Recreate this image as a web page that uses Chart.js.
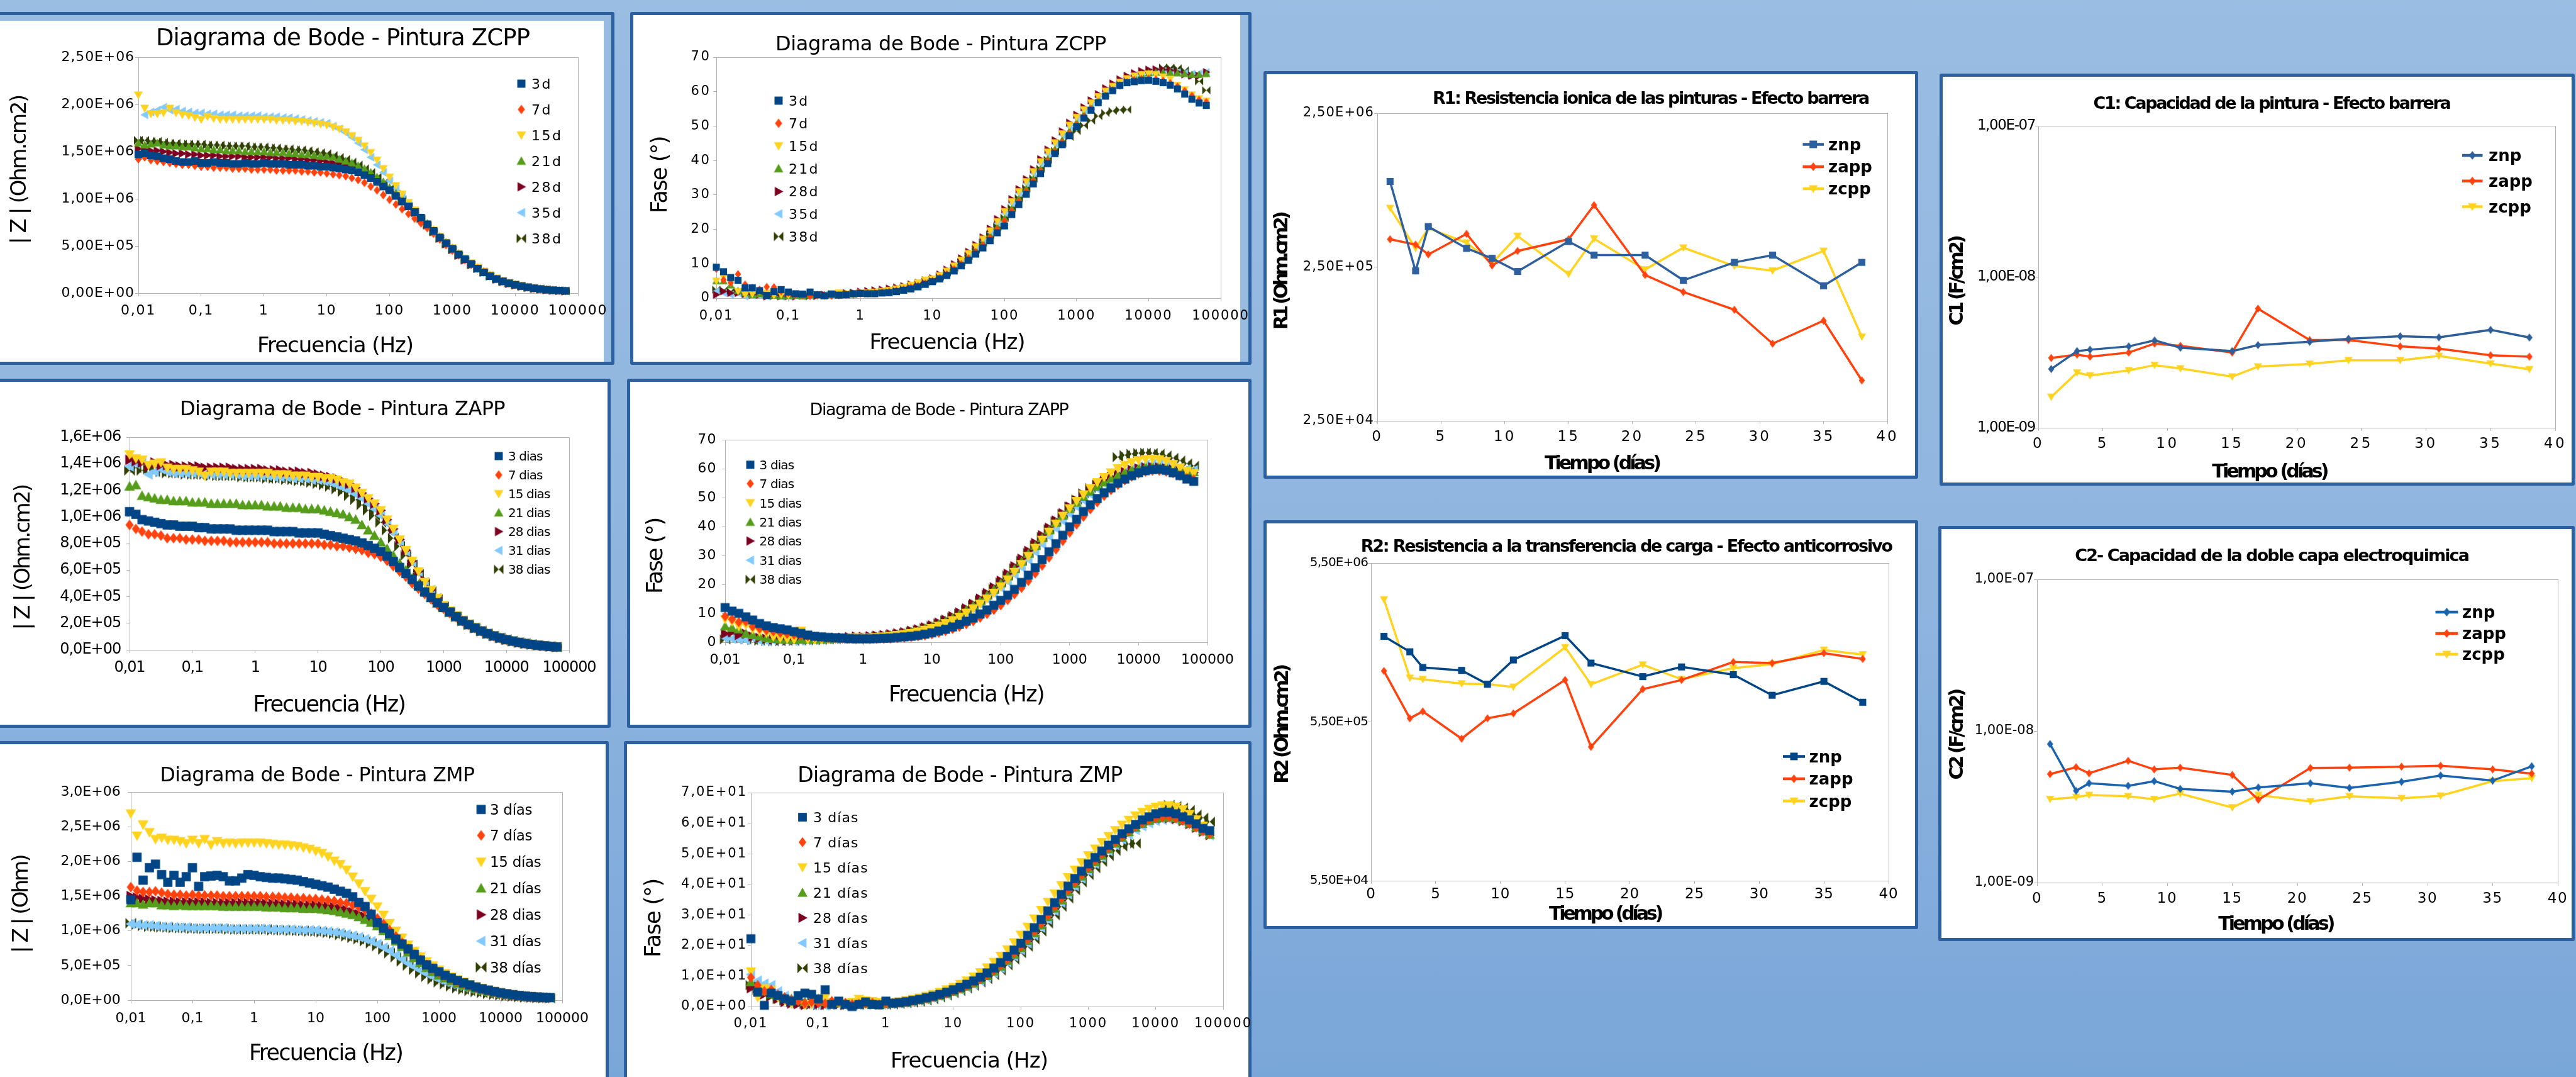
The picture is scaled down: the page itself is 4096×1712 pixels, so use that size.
<!DOCTYPE html>
<html lang="es">
<head>
<meta charset="utf-8">
<title>Diagramas de Bode y parámetros de impedancia</title>
<script src="https://cdn.jsdelivr.net/npm/chart.js@4.4.1/dist/chart.umd.min.js"></script>
<style>
  html, body { margin: 0; padding: 0; }
  body {
    position: relative; width: 4096px; height: 1712px; overflow: hidden;
    background: linear-gradient(180deg, #9abde2 0%, #8fb5df 55%, #79a6d8 100%);
  }
  .panel { position: absolute; box-sizing: border-box; background: #fff; border: 5px solid #2c60a0; border-radius: 3px; }
  canvas { position: absolute; }
</style>
</head>
<body>
<script>
/* ---------- datos: frecuencias (Hz) y días ---------- */
const FREQ = [0.01,0.0126,0.0158,0.02,0.0251,0.0316,0.0398,0.0501,0.0631,0.0794,
  0.1,0.126,0.158,0.2,0.251,0.316,0.398,0.501,0.631,0.794,
  1,1.26,1.58,2,2.51,3.16,3.98,5.01,6.31,7.94,
  10,12.6,15.8,20,25.1,31.6,39.8,50.1,63.1,79.4,
  100,126,158,200,251,316,398,501,631,794,
  1000,1259,1585,1995,2512,3162,3981,5012,6310,7943,
  10000,12589,15849,19953,25119,31623,39811,50119,63096];
const FREQ_TICKS = [0.01, 0.1, 1, 10, 100, 1000, 10000, 100000];
const DAYS = [1, 3, 4, 7, 9, 11, 15, 17, 21, 24, 28, 31, 35, 38];
const DAY_TICKS = [0, 5, 10, 15, 20, 25, 30, 35, 40];

const LAB_D = ['3d', '7d', '15d', '21d', '28d', '35d', '38d'];
const LAB_DIAS = ['3 dias', '7 dias', '15 dias', '21 dias', '28 dias', '31 dias', '38 dias'];
const LAB_DIAS5 = ['3 días', '7 días', '15 días', '21 días', '28 dias', '31 días', '38 días'];
const LAB_DIAS6 = ['3 días', '7 días', '15 días', '21 días', '28 días', '31 días', '38 días'];

/* |Z| pintura ZCPP (x 1e5 Ohm.cm2) */
const zcppZ_3d = [14.7,14.8,14.6,14.5,14.3,14.2,14.0,13.9,13.9,14.0, 13.8,13.8,13.9,13.8,13.8,13.7,13.7,13.8,13.7,13.7, 13.8,13.7,13.7,13.7,13.6,13.6,13.6,13.5,13.5,13.4, 13.4,13.3,13.2,13.1,13.0,12.8,12.5,12.2,11.8,11.3, 10.9,10.3,9.7,9.2,8.6,8.0,7.3,6.6,5.9,5.3, 4.7,4.1,3.6,3.1,2.6,2.2,1.8,1.5,1.25,1.05, 0.89,0.75,0.63,0.52,0.44,0.37,0.31,0.27,0.24];
const zcppZ_7d = [14.2,14.4,14.1,14.0,13.9,13.8,13.7,13.6,13.6,13.5, 13.4,13.4,13.3,13.3,13.3,13.2,13.2,13.2,13.1,13.1, 13.1,13.1,13.0,13.0,13.0,13.0,12.9,12.9,12.8,12.8, 12.7,12.6,12.5,12.4,12.2,12.0,11.7,11.3,10.9,10.4, 9.9,9.4,8.9,8.4,7.9,7.4,6.9,6.3,5.7,5.1, 4.5,4.0,3.5,3.0,2.6,2.2,1.8,1.5,1.25,1.05, 0.88,0.74,0.62,0.51,0.43,0.36,0.30,0.26,0.23];
const zcppZ_15d = [21.0,19.6,19.0,19.0,19.1,19.6,19.1,18.9,18.8,18.6, 18.4,18.7,18.5,18.4,18.4,18.4,18.4,18.4,18.4,18.4, 18.4,18.4,18.3,18.3,18.3,18.2,18.2,18.1,18.0,17.9, 17.8,17.6,17.4,17.1,16.7,16.2,15.6,14.9,14.1,13.2, 12.3,11.4,10.5,9.6,8.8,8.0,7.3,6.7,6.0,5.4, 4.8,4.2,3.7,3.2,2.75,2.3,1.9,1.6,1.3,1.1, 0.92,0.78,0.65,0.54,0.45,0.38,0.32,0.28,0.25];
const zcppZ_21d = [15.9,15.7,15.8,15.9,15.7,15.6,15.6,15.5,15.5,15.4, 15.3,15.3,15.2,15.2,15.1,15.1,15.1,15.0,15.0,15.0, 15.0,14.9,14.9,14.9,14.8,14.8,14.7,14.7,14.6,14.5, 14.5,14.4,14.2,14.0,13.8,13.5,13.2,12.8,12.3,11.8, 11.2,10.6,10.0,9.3,8.7,8.0,7.4,6.7,6.0,5.4, 4.8,4.2,3.6,3.1,2.7,2.3,1.9,1.5,1.25,1.05, 0.88,0.74,0.62,0.52,0.44,0.37,0.31,0.27,0.24];
const zcppZ_28d = [15.3,15.2,15.1,15.1,15.0,14.9,14.8,14.8,14.7,14.7, 14.6,14.6,14.6,14.5,14.5,14.5,14.5,14.4,14.4,14.4, 14.4,14.4,14.3,14.3,14.3,14.2,14.2,14.1,14.1,14.0, 13.9,13.8,13.7,13.5,13.3,13.1,12.8,12.4,12.0,11.5, 11.0,10.4,9.8,9.2,8.5,7.9,7.2,6.5,5.8,5.2, 4.6,4.0,3.5,3.0,2.6,2.2,1.8,1.45,1.2,1.0, 0.84,0.70,0.58,0.48,0.40,0.34,0.29,0.25,0.22];
const zcppZ_35d = [14.6,18.9,19.2,19.4,19.7,19.4,19.5,19.3,19.2,19.1, 19.1,19.0,19.0,18.9,18.9,18.9,18.8,18.8,18.8,18.8, 18.7,18.7,18.7,18.6,18.6,18.5,18.4,18.3,18.2,18.1, 18.0,17.7,17.4,17.0,16.5,15.9,15.2,14.4,13.6,12.8, 11.9,11.1,10.3,9.5,8.7,7.9,7.2,6.5,5.8,5.2, 4.7,4.1,3.6,3.1,2.7,2.3,1.9,1.55,1.3,1.1, 0.90,0.76,0.64,0.53,0.45,0.38,0.32,0.28,0.25];
const zcppZ_38d = [16.2,16.2,16.1,16.1,16.0,15.9,15.9,15.8,15.8,15.8, 15.8,15.7,15.7,15.7,15.6,15.6,15.6,15.6,15.5,15.5, 15.5,15.4,15.4,15.3,15.3,15.2,15.2,15.1,15.0,14.9, 14.8,14.6,14.4,14.2,13.9,13.6,13.2,12.8,12.3,11.7, 11.1,10.5,9.9,9.2,8.6,7.9,7.2,6.5,5.8,5.2, 4.6,4.0,3.5,3.0,2.6,2.2,1.8,1.5,1.25,1.05, 0.88,0.74,0.62,0.52,0.44,0.37,0.31,0.27,0.24];
const ZCPP_Z_TICKS = [0, 5, 10, 15, 20, 25];

/* fase pintura ZCPP (grados) */
const zcppF_3d = [9.0,7.7,6.0,5.2,3.0,3.0,2.2,0.8,1.9,2.5, 1.8,1.3,1.2,1.8,1.0,0.7,1.2,0.9,1.0,1.3, 1.4,1.3,1.3,1.5,1.6,1.9,2.3,2.7,3.3,4.0, 4.8,5.6,6.6,7.9,9.4,11.0,12.8,14.6,16.7,19.0, 21.0,24.3,27.2,30.2,33.2,36.2,39.1,42.0,44.6,47.2, 49.8,52.3,54.6,56.8,58.7,60.3,61.8,62.6,62.9,63.2, 63.3,63.0,62.6,61.9,60.8,59.3,57.8,56.7,56.0];
const zcppF_7d = [8.5,5.3,4.5,7.0,4.0,3.0,2.5,3.3,3.2,2.0, 1.5,1.0,0.8,0.6,0.8,0.9,0.7,0.8,1.0,1.1, 1.3,1.4,1.5,1.7,1.9,2.2,2.6,3.1,3.6,4.3, 5.0,5.9,7.0,8.4,9.9,11.6,13.4,15.4,17.5,20.0, 22.4,25.3,28.1,31.0,34.0,36.9,39.8,42.6,45.3,47.9, 50.4,52.8,55.0,57.0,58.8,60.4,61.8,62.8,63.4,63.7, 63.8,63.6,63.2,62.5,61.5,60.2,58.8,57.6,57.0];
const zcppF_15d = [5.0,6.0,4.5,2.0,1.0,1.2,2.0,1.5,0.8,1.0, 0.8,1.0,1.0,0.9,0.7,0.6,1.4,1.6,1.2,1.2, 1.5,1.6,1.8,2.0,2.3,2.7,3.2,3.8,4.5,5.3, 5.6,6.6,7.9,9.4,11.1,13.0,15.0,17.2,19.6,22.3, 25.2,28.1,31.0,33.9,36.8,39.7,42.5,45.2,47.8,50.3, 52.6,54.8,56.8,58.6,60.2,61.6,62.8,63.8,64.6,65.0, 65.2,65.0,64.3,63.6,61.9,60.6,59.1,58.0,57.3];
const zcppF_21d = [5.0,5.0,3.8,2.2,1.5,1.0,1.2,1.6,0.8,0.6, 0.7,0.8,0.6,0.9,1.0,0.9,1.1,1.2,1.1,1.2, 1.4,1.5,1.6,1.8,2.0,2.4,2.8,3.3,3.9,4.6, 5.3,6.2,7.4,8.8,10.4,12.2,14.0,16.0,18.2,20.6, 23.2,26.0,28.9,31.8,34.7,37.6,40.5,43.3,46.0,48.6, 51.1,53.5,55.7,57.7,59.5,61.1,62.5,63.6,64.4,65.0, 65.4,65.6,65.6,65.5,65.4,65.2,65.0,65.0,65.2];
const zcppF_28d = [1.0,2.0,1.5,1.5,1.2,1.0,1.0,0.5,0.8,0.6, 0.6,0.5,0.8,0.9,0.7,1.0,1.2,1.2,1.5,1.6, 1.9,2.1,2.3,2.5,2.8,3.1,3.5,4.0,4.5,5.2, 5.8,6.9,8.3,9.9,11.6,13.5,15.5,17.7,20.2,23.0, 25.9,28.8,31.7,34.6,37.5,40.4,43.2,45.9,48.5,51.0, 53.3,55.5,57.5,59.3,61.0,62.4,63.6,64.6,65.4,66.0, 66.4,66.5,66.4,66.2,65.7,65.0,64.6,64.6,65.7];
const zcppF_35d = [2.0,1.5,1.0,1.5,0.5,0.8,1.0,0.5,0.8,0.5, 0.6,0.8,0.5,0.7,0.9,1.0,0.8,1.0,1.2,1.3, 1.5,1.6,1.8,2.0,2.3,2.7,3.1,3.7,4.4,5.1, 5.5,6.5,7.8,9.2,10.9,12.7,14.7,16.8,19.2,21.8, 24.7,27.6,30.5,33.4,36.3,39.2,42.0,44.8,47.4,49.9, 52.3,54.5,56.6,58.5,60.2,61.7,63.0,64.0,64.8,65.4, 65.8,66.0,66.0,65.8,65.6,65.4,65.2,65.3,65.7];
const zcppF_38d = [2.5,2.3,2.0,2.0,1.5,1.2,1.0,0.8,0.6,0.6, 0.7,0.8,0.7,0.6,0.8,0.9,1.0,1.0,1.1,1.3, 1.4,1.5,1.7,1.9,2.1,2.5,2.9,3.4,4.0,4.7, 5.4,6.3,7.5,8.9,10.5,12.3,14.2,16.2,18.5,20.9, 23.4,26.2,29.1,32.0,34.8,37.6,40.2,42.8,45.0,46.9, 48.6,50.2,51.6,52.9,53.8,54.4,54.7,54.8,null,null, null,null,67.0,67.0,66.8,66.2,64.8,63.0,60.4];
const PHASE_TICKS = [0, 10, 20, 30, 40, 50, 60, 70];

/* |Z| pintura ZAPP (x 1e5 Ohm.cm2) */
const zappZ_3d = [10.4,10.2,9.8,9.7,9.6,9.5,9.4,9.4,9.3,9.3, 9.3,9.2,9.2,9.1,9.1,9.1,9.1,9.0,9.0,9.0, 9.0,9.0,9.0,8.9,8.9,8.9,8.9,8.8,8.8,8.8, 8.8,8.7,8.6,8.5,8.4,8.3,8.2,8.05,7.85,7.65, 7.4,7.05,6.65,6.2,5.75,5.3,4.8,4.35,3.95,3.55, 3.2,2.85,2.5,2.18,1.9,1.65,1.42,1.22,1.05,0.9, 0.77,0.66,0.56,0.48,0.41,0.35,0.3,0.26,0.22];
const zappZ_7d = [9.4,9.1,8.9,8.7,8.7,8.6,8.4,8.4,8.4,8.3, 8.3,8.3,8.2,8.2,8.2,8.2,8.1,8.1,8.1,8.1, 8.1,8.1,8.1,8.0,8.0,8.0,8.0,8.0,8.0,8.0, 8.0,7.9,7.9,7.8,7.8,7.7,7.6,7.5,7.3,7.2, 7.0,6.7,6.3,5.9,5.5,5.0,4.6,4.2,3.8,3.4, 3.1,2.75,2.45,2.15,1.88,1.63,1.4,1.2,1.03,0.88, 0.75,0.64,0.55,0.47,0.4,0.34,0.29,0.25,0.21];
const zappZ_15d = [14.7,14.4,14.3,13.9,14.0,14.1,13.7,13.6,13.6,13.6, 13.5,13.4,13.1,13.4,13.4,13.4,13.3,13.3,13.3,13.3, 13.3,13.3,13.3,13.2,13.2,13.2,13.1,13.1,13.1,13.0, 13.0,12.9,12.9,12.8,12.6,12.5,12.2,11.8,11.4,11.0, 10.5,9.8,9.1,8.3,7.5,6.7,5.9,5.1,4.5,3.9, 3.35,2.95,2.6,2.25,1.95,1.7,1.46,1.25,1.07,0.92, 0.79,0.67,0.57,0.49,0.42,0.36,0.31,0.27,0.23];
const zappZ_21d = [12.3,12.4,11.6,11.5,11.4,11.3,11.3,11.2,11.2,11.2, 11.1,11.1,11.1,11.0,11.0,11.0,11.0,11.0,10.9,10.9, 10.9,10.9,10.8,10.8,10.8,10.7,10.7,10.7,10.6,10.6, 10.6,10.5,10.4,10.3,10.2,10.0,9.8,9.4,9.0,8.6, 8.1,7.6,7.1,6.5,6.0,5.4,4.9,4.4,3.9,3.5, 3.15,2.8,2.48,2.17,1.9,1.65,1.42,1.22,1.05,0.9, 0.77,0.66,0.56,0.48,0.41,0.35,0.3,0.26,0.22];
const zappZ_28d = [14.3,14.2,14.1,13.8,14.1,13.9,13.9,13.9,13.8,13.8, 13.8,13.8,13.7,13.7,13.7,13.7,13.7,13.6,13.6,13.6, 13.6,13.6,13.5,13.5,13.5,13.4,13.4,13.4,13.3,13.3, 13.2,13.1,13.0,12.9,12.7,12.5,12.2,11.8,11.4,11.0, 10.5,9.8,9.1,8.3,7.5,6.7,5.9,5.2,4.5,3.9, 3.3,2.9,2.55,2.2,1.92,1.66,1.43,1.23,1.05,0.9, 0.77,0.66,0.56,0.48,0.41,0.35,0.3,0.26,0.22];
const zappZ_31d = [13.8,14.0,14.2,13.2,13.4,13.6,13.4,13.3,13.3,13.3, 13.3,13.3,13.2,13.2,13.2,13.2,13.2,13.2,13.1,13.1, 13.1,13.1,13.1,13.0,13.0,13.0,12.9,12.9,12.9,12.8, 12.8,12.7,12.6,12.4,12.2,12.0,11.7,11.4,11.0,10.6, 10.1,9.5,8.8,8.1,7.4,6.6,5.8,5.1,4.5,3.9, 3.3,2.9,2.55,2.2,1.92,1.66,1.43,1.23,1.05,0.9, 0.77,0.66,0.56,0.48,0.41,0.35,0.3,0.26,0.22];
const zappZ_38d = [13.5,13.7,13.5,13.6,13.4,13.4,13.3,13.3,13.3,13.2, 13.2,13.2,13.2,13.1,13.1,13.1,13.1,13.1,13.0,13.0, 13.0,13.0,12.9,12.9,12.9,12.8,12.8,12.7,12.7,12.6, 12.5,12.4,12.3,12.1,11.9,11.6,11.3,10.9,10.5,10.1, 9.6,9.0,8.4,7.8,7.1,6.4,5.7,5.0,4.4,3.8, 3.25,2.85,2.5,2.18,1.9,1.65,1.42,1.22,1.05,0.9, 0.77,0.66,0.56,0.48,0.41,0.35,0.3,0.26,0.22];
const ZAPP_Z_TICKS = [0, 2, 4, 6, 8, 10, 12, 14, 16];

/* fase pintura ZAPP (grados) */
const zappF_3d = [12.0,10.8,10.0,8.8,7.7,6.5,5.7,5.1,4.7,4.3, 3.7,3.1,2.5,2.1,1.9,1.7,1.6,1.5,1.3,1.2, 1.2,1.2,1.3,1.4,1.5,1.7,1.9,2.1,2.4,2.8, 3.3,3.9,4.5,5.3,6.2,7.3,8.4,9.8,11.2,12.8, 14.5,16.3,18.3,20.7,23.2,25.8,28.6,31.3,34.1,37.0, 39.9,42.5,45.2,47.5,49.7,51.7,53.4,55.0,56.4,57.6, 58.6,59.3,59.7,59.8,59.4,58.6,57.6,56.4,55.6];
const zappF_7d = [9.0,8.0,7.0,7.2,5.5,4.8,4.2,3.8,3.3,3.0, 2.7,2.4,2.1,1.9,1.7,1.5,1.4,1.3,1.2,1.1, 1.1,1.1,1.2,1.2,1.3,1.5,1.6,1.8,2.1,2.4, 2.8,3.3,3.9,4.6,5.4,6.3,7.3,8.5,9.8,11.2, 12.8,14.6,16.6,18.8,21.2,23.8,26.5,29.3,32.1,35.0, 37.9,40.7,43.4,46.0,48.4,50.6,52.6,54.4,56.0,57.3, 58.3,59.0,59.3,59.3,59.0,58.4,57.6,56.8,56.3];
const zappF_15d = [8.0,7.2,5.5,6.0,4.5,3.8,3.2,2.0,1.5,1.2, 1.0,4.0,1.0,0.9,1.0,1.1,1.2,1.4,1.5,1.7, 1.5,1.6,1.8,2.0,2.2,2.5,2.8,3.2,3.7,4.3, 4.9,5.7,6.6,7.6,8.8,10.2,11.7,13.3,15.1,17.1, 19.3,21.7,24.3,27.0,29.8,32.6,35.4,38.2,41.0,43.7, 46.3,48.8,51.1,53.3,55.3,57.1,58.7,60.1,61.3,62.2, 62.9,63.3,63.4,63.2,62.6,61.6,60.4,59.2,58.5];
const zappF_21d = [5.5,5.0,4.5,3.0,2.5,2.0,1.5,1.2,1.0,0.9, 0.8,0.9,0.9,1.0,1.0,1.1,1.2,1.3,1.4,1.5, 1.6,1.7,1.9,2.1,2.4,2.7,3.1,3.6,4.1,4.8, 5.5,6.3,7.3,8.4,9.7,11.1,12.6,14.3,16.2,18.2, 20.4,22.8,25.3,27.9,30.6,33.3,36.0,38.7,41.3,43.8, 46.1,48.3,50.3,52.1,53.8,55.3,56.6,57.8,58.8,59.6, 60.2,60.6,60.8,60.8,60.6,60.2,59.7,59.2,58.8];
const zappF_28d = [3.0,3.5,2.5,3.0,2.0,1.5,1.2,1.0,0.8,0.8, 0.9,1.0,1.1,1.2,1.3,1.4,1.5,1.6,1.8,2.0, 1.9,2.1,2.3,2.5,2.8,3.1,3.5,4.0,4.5,5.2, 5.9,6.8,7.8,9.0,10.3,11.7,13.3,15.1,17.0,19.0, 21.3,23.7,26.3,28.9,31.6,34.3,37.0,39.6,42.1,44.6, 46.9,49.1,51.1,52.9,54.5,55.9,57.1,58.1,58.9,59.6, 60.1,60.4,60.5,60.4,60.1,59.7,59.2,58.8,58.6];
const zappF_31d = [1.5,1.2,1.0,0.8,1.5,0.5,0.4,0.5,0.6,0.7, 0.5,0.6,0.7,0.8,0.9,1.0,1.1,1.2,1.3,1.4, 1.5,1.6,1.8,2.0,2.2,2.5,2.9,3.3,3.8,4.4, 5.0,5.8,6.7,7.7,8.9,10.2,11.6,13.2,14.9,16.8, 18.8,21.0,23.4,25.9,28.5,31.2,33.9,36.6,39.3,41.9, 44.4,46.8,49.0,51.1,53.0,54.8,56.4,57.8,59.0,60.0, 60.8,61.4,61.7,61.7,61.4,60.9,60.3,59.8,59.5];
const zappF_38d = [1.0,1.5,1.8,1.0,0.8,0.6,0.5,0.4,0.4,0.5, 0.5,0.6,0.7,0.8,0.9,1.0,1.1,1.2,1.3,1.4, 1.6,1.8,2.0,2.2,2.5,2.8,3.2,3.7,4.2,4.9, 5.6,6.5,7.5,8.6,9.9,11.3,12.9,14.6,16.5,18.5, 20.7,23.1,25.6,28.2,30.9,33.6,36.4,39.1,41.8,44.4, 46.9,49.3,51.5,53.3,54.5,55.3,null,64.0,64.7,65.1, 65.4,65.5,65.4,65.1,64.5,63.7,62.8,61.8,61.0];

/* |Z| pintura ZMP (x 1e5 Ohm) */
const zmpZ_3d = [14.5,20.6,17.3,19.1,19.6,18.1,17.0,18.0,17.0,17.8, 19.1,16.4,17.8,17.9,18.0,17.8,17.2,17.2,17.6,18.1, 18.0,17.8,17.7,17.6,17.6,17.5,17.4,17.3,17.1,16.9, 16.7,16.5,16.3,16.0,15.7,15.4,14.9,14.1,13.5,12.4, 11.2,10.4,9.6,8.8,8.1,7.4,6.6,5.8,5.1,4.6, 4.1,3.6,3.2,2.85,2.5,2.2,1.9,1.65,1.45,1.25, 1.08,0.93,0.8,0.69,0.6,0.52,0.46,0.42,0.4];
const zmpZ_7d = [16.3,15.8,15.6,15.6,15.7,15.5,15.3,15.2,15.2,15.1, 15.2,15.1,15.1,15.1,15.1,15.0,15.0,15.0,15.0,15.0, 15.0,15.0,14.9,14.9,14.9,14.8,14.8,14.7,14.7,14.6, 14.6,14.5,14.4,14.3,14.1,14.0,13.7,13.4,13.0,12.5, 11.8,11.0,10.1,9.2,8.3,7.4,6.6,5.8,5.1,4.5, 4.0,3.5,3.1,2.7,2.4,2.1,1.8,1.6,1.4,1.2, 1.0,0.86,0.74,0.64,0.55,0.48,0.42,0.38,0.35];
const zmpZ_15d = [26.9,23.7,25.3,24.2,23.2,23.4,23.1,23.1,22.9,22.6, 23.1,22.6,23.2,22.4,22.9,22.6,22.7,22.6,22.7,22.7, 22.7,22.7,22.6,22.5,22.4,22.4,22.3,22.2,22.0,21.8, 21.5,21.2,20.7,20.1,19.6,18.8,17.8,16.8,15.7,14.6, 13.5,12.3,11.1,10.0,9.0,8.0,7.1,6.3,5.6,5.0, 4.4,3.9,3.4,3.0,2.65,2.3,2.0,1.75,1.5,1.3, 1.12,0.97,0.84,0.73,0.63,0.55,0.48,0.43,0.4];
const zmpZ_21d = [14.0,14.0,13.8,14.0,14.0,13.7,13.7,13.6,13.7,13.6, 13.6,13.6,13.6,13.6,13.6,13.5,13.5,13.5,13.5,13.5, 13.5,13.5,13.4,13.4,13.4,13.3,13.3,13.3,13.2,13.2, 13.2,13.1,13.0,12.9,12.7,12.5,12.3,12.0,11.6,11.2, 10.7,10.0,9.3,8.5,7.7,6.9,6.1,5.4,4.7,4.1, 3.6,3.2,2.8,2.45,2.15,1.9,1.65,1.45,1.25,1.1, 0.95,0.82,0.71,0.61,0.53,0.46,0.41,0.37,0.34];
const zmpZ_28d = [15.0,14.8,14.6,14.5,14.4,14.3,14.2,14.2,14.1,14.1, 14.1,14.1,14.1,14.0,14.0,14.0,14.0,14.0,14.0,14.0, 14.0,14.0,13.9,13.9,13.9,13.8,13.8,13.8,13.7,13.7, 13.7,13.6,13.5,13.4,13.2,13.0,12.7,12.4,12.0,11.6, 11.1,10.4,9.6,8.8,8.0,7.2,6.4,5.6,4.9,4.3, 3.8,3.3,2.9,2.55,2.25,1.95,1.7,1.5,1.3,1.12, 0.97,0.84,0.72,0.62,0.54,0.47,0.42,0.38,0.35];
const zmpZ_31d = [11.0,10.9,10.8,10.8,10.7,10.6,10.6,10.5,10.5,10.5, 10.4,10.4,10.4,10.4,10.4,10.4,10.3,10.3,10.3,10.3, 10.3,10.3,10.3,10.2,10.2,10.2,10.2,10.1,10.1,10.1, 10.1,10.0,9.9,9.8,9.7,9.5,9.3,9.1,8.8,8.5, 8.1,7.6,7.1,6.5,5.9,5.3,4.8,4.3,3.8,3.4, 3.0,2.65,2.35,2.1,1.85,1.65,1.45,1.3,1.15,1.0, 0.88,0.77,0.67,0.58,0.51,0.45,0.4,0.36,0.33];
const zmpZ_38d = [11.1,10.9,10.7,10.6,10.6,10.5,10.5,10.4,10.4,10.4, 10.3,10.3,10.3,10.3,10.3,10.3,10.2,10.2,10.2,10.2, 10.2,10.2,10.2,10.1,10.1,10.1,10.0,10.0,10.0,9.9, 9.9,9.8,9.7,9.6,9.4,9.2,9.0,8.8,8.5,8.2, 7.8,7.3,6.8,6.2,5.6,5.0,4.4,3.9,3.4,3.0, 2.6,2.3,2.0,1.75,1.55,1.35,1.2,1.05,0.92,0.8, 0.7,0.61,0.53,0.46,0.41,0.37,0.34,0.31,0.29];
const ZMP_Z_TICKS = [0, 5, 10, 15, 20, 25, 30];

/* fase pintura ZMP (grados) */
const zmpF_3d = [22.2,4.7,0.4,4.4,3.6,2.5,1.8,3.6,4.4,4.0, 2.5,5.5,0.7,1.8,0.7,0.0,0.7,1.5,0.7,0.6, 1.8,1.1,1.3,1.6,2.0,2.4,2.9,3.4,4.0,4.7, 5.5,6.3,7.3,8.4,9.6,11.0,12.6,14.4,16.4,18.5, 20.7,23.3,25.8,28.5,31.3,34.0,36.7,39.4,41.9,44.3, 46.7,48.8,50.9,52.8,54.7,56.6,58.2,59.6,61.1,62.1, 63.1,63.6,63.6,63.1,62.1,61.1,59.8,58.3,57.6];
const zmpF_7d = [9.5,7.0,5.0,5.5,4.0,3.0,2.2,1.8,1.0,1.5, 1.2,1.0,1.8,1.5,1.2,0.8,0.9,1.0,1.2,0.6, 1.0,1.1,1.2,1.4,1.8,2.2,2.6,3.1,3.7,4.3, 5.1,5.9,6.8,7.9,9.0,10.3,11.8,13.5,15.4,17.5, 19.6,22.0,24.6,27.2,29.9,32.7,35.4,38.1,40.7,43.1, 45.5,47.8,49.9,51.9,53.8,55.7,57.4,58.9,60.2,61.1, 61.7,62.0,62.0,61.6,60.8,59.8,58.6,57.4,56.5];
const zmpF_15d = [11.5,3.0,6.0,5.5,3.0,2.0,1.0,3.5,0.5,0.8, 2.5,3.0,1.5,1.2,1.0,1.5,2.5,2.0,1.8,1.5, 1.2,1.4,1.7,2.1,2.5,2.9,3.5,4.1,4.8,5.6, 6.4,7.4,8.5,9.8,11.2,12.8,14.6,16.6,18.7,21.0, 23.5,26.1,28.8,31.6,34.3,37.0,39.7,42.3,44.8,47.2, 49.5,51.7,53.8,55.8,57.7,59.5,61.1,62.5,63.7,64.7, 65.4,65.8,65.8,65.4,64.5,63.0,61.2,59.2,57.2];
const zmpF_21d = [8.0,6.5,5.0,4.0,3.5,3.0,2.5,2.0,1.5,2.0, 2.5,1.5,1.0,1.2,1.0,0.8,0.9,1.0,0.6,0.5, 0.9,1.0,1.2,1.4,1.7,2.1,2.5,3.0,3.5,4.2, 4.9,5.7,6.6,7.6,8.8,10.0,11.5,13.1,15.0,17.0, 19.2,21.5,24.1,26.6,29.3,32.1,34.8,37.5,40.2,42.6, 45.0,47.3,49.4,51.5,53.4,55.3,57.1,58.6,59.8,60.8, 61.5,61.8,61.9,61.6,60.9,59.9,58.7,57.4,56.3];
const zmpF_28d = [6.0,5.0,4.0,3.5,2.5,1.5,1.0,0.8,0.5,1.0, 0.8,0.6,1.0,0.8,0.6,0.5,0.8,0.9,1.0,0.7, 0.8,1.0,1.2,1.4,1.6,2.0,2.4,2.9,3.4,4.0, 4.7,5.5,6.4,7.4,8.6,9.8,11.3,12.9,14.8,16.8, 19.0,21.3,23.9,26.4,29.1,31.9,34.6,37.3,40.0,42.4, 44.8,47.1,49.2,51.3,53.2,55.1,56.9,58.4,59.6,60.6, 61.3,61.6,61.7,61.4,60.7,59.7,58.5,57.2,56.1];
const zmpF_31d = [10.5,8.5,7.5,7.0,5.0,3.5,2.0,1.5,1.0,0.5, 0.5,0.3,0.6,0.8,0.5,0.4,0.5,0.6,0.7,0.8, 0.7,0.9,1.1,1.3,1.6,2.0,2.4,2.9,3.4,4.0, 4.7,5.5,6.3,7.3,8.4,9.6,11.0,12.6,14.4,16.4, 18.5,20.7,23.3,25.8,28.5,31.3,34.0,36.7,39.4,41.9, 44.3,46.7,48.8,50.9,52.8,54.7,56.3,57.8,59.0,60.0, 60.7,61.1,61.2,61.0,60.4,59.5,58.4,57.2,56.0];
const zmpF_38d = [7.0,5.5,4.0,3.0,2.5,2.0,1.5,1.0,0.8,0.6, 0.5,0.6,0.7,0.6,0.5,0.5,0.6,0.7,0.8,0.9, 0.6,0.7,0.9,1.1,1.3,1.6,2.0,2.4,3.0,3.6, 4.4,5.1,5.9,6.8,7.9,9.0,10.3,11.8,13.5,15.4, 17.5,19.6,22.0,24.6,27.2,29.9,32.7,35.4,38.1,40.7, 43.1,45.3,47.4,49.3,51.0,52.4,53.2,53.4,null,null, null,null,66.0,65.6,65.1,64.3,62.8,61.8,60.5];

/* R1 (Ohm.cm2), C1 (F/cm2), R2 (Ohm.cm2), C2 (F/cm2) frente al tiempo */
const r1_znp = [9.0e5, 2.36e5, 4.58e5, 3.31e5, 2.85e5, 2.34e5, 3.67e5, 2.99e5, 2.99e5, 2.05e5, 2.68e5, 2.99e5, 1.89e5, 2.68e5];
const r1_zapp = [3.79e5, 3.50e5, 3.02e5, 4.11e5, 2.56e5, 3.18e5, 3.79e5, 6.32e5, 2.22e5, 1.72e5, 1.32e5, 7.94e4, 1.12e5, 4.58e4];
const r1_zcpp = [6.04e5, 3.31e5, 4.47e5, 3.60e5, 2.65e5, 3.98e5, 2.25e5, 3.82e5, 2.41e5, 3.34e5, 2.54e5, 2.37e5, 3.18e5, 8.79e4];
const R1_TICKS = [2.5e4, 2.5e5, 2.5e6];

const c1_znp = [2.45e-9, 3.22e-9, 3.29e-9, 3.46e-9, 3.79e-9, 3.39e-9, 3.22e-9, 3.53e-9, 3.71e-9, 3.89e-9, 4.04e-9, 3.97e-9, 4.45e-9, 3.96e-9];
const c1_zapp = [2.90e-9, 3.05e-9, 2.96e-9, 3.15e-9, 3.61e-9, 3.49e-9, 3.15e-9, 6.15e-9, 3.81e-9, 3.81e-9, 3.46e-9, 3.34e-9, 3.02e-9, 2.96e-9];
const c1_zcpp = [1.60e-9, 2.32e-9, 2.22e-9, 2.40e-9, 2.60e-9, 2.47e-9, 2.18e-9, 2.54e-9, 2.65e-9, 2.80e-9, 2.80e-9, 2.99e-9, 2.66e-9, 2.44e-9];
const C_TICKS = [1e-9, 1e-8, 1e-7];

const r2_znp = [1.90e6, 1.52e6, 1.21e6, 1.16e6, 9.50e5, 1.35e6, 1.92e6, 1.29e6, 1.06e6, 1.22e6, 1.09e6, 8.09e5, 9.89e5, 7.31e5];
const r2_zapp = [1.15e6, 5.79e5, 6.40e5, 4.31e5, 5.79e5, 6.22e5, 1.01e6, 3.83e5, 8.84e5, 1.01e6, 1.31e6, 1.29e6, 1.49e6, 1.37e6];
const r2_zcpp = [3.24e6, 1.04e6, 1.02e6, 9.58e5, 9.50e5, 9.13e5, 1.62e6, 9.47e5, 1.26e6, 1.02e6, 1.20e6, 1.27e6, 1.56e6, 1.46e6];
const R2_TICKS = [5.5e4, 5.5e5, 5.5e6];

const c2_znp = [8.20e-9, 4.03e-9, 4.52e-9, 4.35e-9, 4.67e-9, 4.15e-9, 3.98e-9, 4.24e-9, 4.52e-9, 4.21e-9, 4.62e-9, 5.09e-9, 4.71e-9, 5.85e-9];
const c2_zapp = [5.20e-9, 5.77e-9, 5.26e-9, 6.36e-9, 5.58e-9, 5.73e-9, 5.13e-9, 3.52e-9, 5.70e-9, 5.73e-9, 5.82e-9, 5.90e-9, 5.58e-9, 5.24e-9];
const c2_zcpp = [3.55e-9, 3.66e-9, 3.78e-9, 3.71e-9, 3.55e-9, 3.86e-9, 3.13e-9, 3.78e-9, 3.43e-9, 3.71e-9, 3.60e-9, 3.74e-9, 4.67e-9, 4.88e-9];

/* ---------- estilos ---------- */
const FAM = "'DejaVu Sans', 'Liberation Sans', sans-serif";
const GREY = '#b3b3b3';
const BODE_MARKS = [['square', '#004586'], ['diamond', '#ff420e'], ['down', '#ffd320'], ['up', '#579d1c'],
                    ['right', '#7e0021'], ['left', '#83caff'], ['bowtie', '#314004']];

function sci(v, d) {
  if (v === 0) return (0).toFixed(d).replace('.', ',') + 'E+00';
  const [m, e] = v.toExponential(d).split('e');
  const n = parseInt(e, 10);
  return m.replace('.', ',') + 'E' + (n < 0 ? '-' : '+') + String(Math.abs(n)).padStart(2, '0');
}

// marcador dibujado en un canvas pequeño (lo usa Chart.js como pointStyle)
function marker(shape, color, s) {
  const n = Math.ceil(s) + 2, c = document.createElement('canvas');
  c.width = c.height = n;
  const g = c.getContext('2d'), m = n / 2, a = (n - s) / 2, z = a + s;
  const poly = (pts) => { g.moveTo(pts[0][0], pts[0][1]); pts.slice(1).forEach(p => g.lineTo(p[0], p[1])); g.closePath(); };
  g.fillStyle = color;
  g.beginPath();
  switch (shape) {
    case 'square': { const q = s * 0.86; g.rect(m - q / 2, m - q / 2, q, q); break; }
    case 'diamond': { const h = s * 0.38; poly([[m, a], [m + h, m], [m, z], [m - h, m]]); break; }
    case 'down': poly([[a, a + s * 0.1], [z, a + s * 0.1], [m, z]]); break;
    case 'up': poly([[m, a], [z, z - s * 0.1], [a, z - s * 0.1]]); break;
    case 'right': poly([[a + s * 0.1, a], [z, m], [a + s * 0.1, z]]); break;
    case 'left': poly([[z - s * 0.1, a], [a, m], [z - s * 0.1, z]]); break;
    case 'bowtie': poly([[a, a], [m, m], [a, z]]); poly([[z, a], [m, m], [z, z]]); break;
  }
  g.fill();
  return c;
}

// texto ajustado a un ancho (espaciado de letras), centrado o alineado a la izquierda
function fitText(c, t, ox, oy) {
  c.save();
  c.font = (t.bold ? 'bold ' : '') + t.size + 'px ' + FAM;
  c.fillStyle = '#000';
  c.textAlign = 'left';
  c.textBaseline = 'alphabetic';
  c.letterSpacing = '0px';
  const n = Array.from(t.text).length;
  const w0 = c.measureText(t.text).width;
  const sp = t.w ? (t.w - w0) / n : (t.sp || 0);
  c.letterSpacing = sp.toFixed(2) + 'px';
  const w = t.w || (w0 + n * sp);
  c.translate(t.x - ox, t.y - oy);
  if (t.rot) c.rotate(-Math.PI / 2);
  c.fillText(t.text, t.align === 'left' ? 0 : -w / 2, t.size * 0.36);
  c.restore();
}

const bode = (arrays, labels) => arrays.map((v, i) => ({ label: labels[i], values: v, shape: BODE_MARKS[i][0], color: BODE_MARKS[i][1] }));
const trend = (arrays, shapes, blue) => ['znp', 'zapp', 'zcpp'].map((lab, i) => ({
  label: lab, values: arrays[i], shape: shapes[i], color: [blue, '#ff420e', '#ffd320'][i] }));

const phaseFmt = v => String(v);

/* ---------- disposición de los 10 gráficos (px de la página) ---------- */
const CHARTS = [
  { kind: 'bode', panel: [-7, 19, 984, 561], area: [220, 91, 919, 466], shadow: 'inset -12px 9px 0 #97bbe1',
    series: bode([zcppZ_3d, zcppZ_7d, zcppZ_15d, zcppZ_21d, zcppZ_28d, zcppZ_35d, zcppZ_38d], LAB_D), ms: 14,
    y: { ticks: ZCPP_Z_TICKS, fmt: v => sci(v * 1e5, 2) },
    tick: { x: [22, 1.75, 10.4], y: [22, 0.9, 1] },
    texts: [{ text: 'Diagrama de Bode - Pintura ZCPP', x: 545, y: 59, w: 594, size: 37 },
            { text: 'Frecuencia (Hz)', x: 533, y: 548, w: 248, size: 34 },
            { text: '| Z | (Ohm.cm2)', x: 28.5, y: 270, w: 236, size: 34, rot: true }],
    legend: { mx: 829, tx: 845, ys: [133, 174, 215, 256, 297, 338, 379], size: 22, sp: 2.5, ms: 15 } },
  { kind: 'bode', panel: [1002, 19, 988, 561], area: [1139, 91, 1941, 474], shadow: 'inset -13px 0 0 #97bbe1',
    series: bode([zcppF_3d, zcppF_7d, zcppF_15d, zcppF_21d, zcppF_28d, zcppF_35d, zcppF_38d], LAB_D), ms: 13,
    y: { ticks: PHASE_TICKS, fmt: phaseFmt },
    tick: { x: [21, 1.9, 11.4], y: [21, 2.6, 3.5] },
    texts: [{ text: 'Diagrama de Bode - Pintura ZCPP', x: 1496, y: 68.5, w: 526, size: 32 },
            { text: 'Frecuencia (Hz)', x: 1506, y: 543, w: 247, size: 34 },
            { text: 'Fase (°)', x: 1047, y: 278, w: 122, size: 35, rot: true }],
    legend: { mx: 1238, tx: 1254, ys: [160, 196, 232, 268, 304.5, 340, 376], size: 22, sp: 2.3, ms: 15 } },
  { kind: 'bode', panel: [-7, 602, 978, 555], area: [206, 695, 905, 1033],
    series: bode([zappZ_3d, zappZ_7d, zappZ_15d, zappZ_21d, zappZ_28d, zappZ_31d, zappZ_38d], LAB_DIAS), ms: 17,
    y: { ticks: ZAPP_Z_TICKS, fmt: v => sci(v * 1e5, 1) },
    tick: { x: [24, -1.1, 9.6], y: [24, -1.0, 8.8] },
    texts: [{ text: 'Diagrama de Bode - Pintura ZAPP', x: 544.6, y: 648, w: 517, size: 32 },
            { text: 'Frecuencia (Hz)', x: 523, y: 1118, w: 241.5, size: 35 },
            { text: '| Z | (Ohm.cm2)', x: 34.5, y: 886.6, w: 230, size: 34, rot: true }],
    legend: { mx: 793, tx: 808, ys: [725, 755, 785, 815, 845, 875, 905], size: 20, sp: -0.9, ms: 15 } },
  { kind: 'bode', panel: [997, 602, 993, 555], area: [1153, 699, 1920, 1021],
    series: bode([zappF_3d, zappF_7d, zappF_15d, zappF_21d, zappF_28d, zappF_31d, zappF_38d], LAB_DIAS), ms: 16.5,
    y: { ticks: PHASE_TICKS, fmt: phaseFmt },
    tick: { x: [22, 0, 9.8], y: [22, 1.4, 8] },
    texts: [{ text: 'Diagrama de Bode - Pintura ZAPP', x: 1493, y: 650, w: 411, size: 27 },
            { text: 'Frecuencia (Hz)', x: 1536.5, y: 1102, w: 247, size: 35 },
            { text: 'Fase (°)', x: 1040, y: 884, w: 120, size: 36, rot: true }],
    legend: { mx: 1193, tx: 1207.6, ys: [738.7, 768.8, 799.3, 830, 860, 890.4, 921], size: 20, sp: -0.9, ms: 15 } },
  { kind: 'bode', panel: [-7, 1178, 975, 560], area: [208, 1259, 894, 1590],
    series: bode([zmpZ_3d, zmpZ_7d, zmpZ_15d, zmpZ_21d, zmpZ_28d, zmpZ_31d, zmpZ_38d], LAB_DIAS5), ms: 17,
    y: { ticks: ZMP_Z_TICKS, fmt: v => sci(v * 1e5, 1) },
    tick: { x: [22, 0, 10.8], y: [22, 0, 11.3] },
    texts: [{ text: 'Diagrama de Bode - Pintura ZMP', x: 504.5, y: 1231, w: 500, size: 31.5 },
            { text: 'Frecuencia (Hz)', x: 518, y: 1672, w: 244, size: 35 },
            { text: '| Z | (Ohm)', x: 31.4, y: 1437.6, w: 155, size: 34, rot: true }],
    legend: { mx: 765, tx: 779, ys: [1286.7, 1328, 1370, 1412, 1454, 1496, 1537.5], size: 23, sp: -0.3, ms: 17 } },
  { kind: 'bode', panel: [992, 1178, 998, 560], area: [1194, 1260, 1945, 1600],
    series: bode([zmpF_3d, zmpF_7d, zmpF_15d, zmpF_21d, zmpF_28d, zmpF_31d, zmpF_38d], LAB_DIAS6), ms: 16.5,
    y: { ticks: PHASE_TICKS, fmt: v => sci(v, 1) },
    tick: { x: [21, 2, 10.4], y: [21, 2, 1] },
    texts: [{ text: 'Diagrama de Bode - Pintura ZMP', x: 1526.5, y: 1231, w: 516.5, size: 33 },
            { text: 'Frecuencia (Hz)', x: 1541, y: 1684.6, w: 250, size: 34 },
            { text: 'Fase (°)', x: 1037.5, y: 1459.6, w: 125, size: 35, rot: true }],
    legend: { mx: 1276, tx: 1293, ys: [1299, 1338.7, 1378.8, 1419, 1459, 1499, 1539], size: 22, sp: 1.1, ms: 16 } },
  { kind: 'trend', panel: [2009, 113, 1041, 648], area: [2190, 180, 3001, 669],
    series: trend([r1_znp, r1_zapp, r1_zcpp], ['square', 'diamond', 'down'], '#2e5f9e'), ms: 13,
    y: { type: 'logarithmic', ticks: R1_TICKS, fmt: v => sci(v, 2) },
    tick: { x: [23, 3, 7.2], y: [21, 1.1, 0] },
    texts: [{ text: 'R1: Resistencia ionica de las pinturas - Efecto barrera', x: 2624.4, y: 154.8, w: 692.6, size: 27, bold: true },
            { text: 'Tiempo (días)', x: 2547, y: 734.8, w: 182, size: 30, bold: true },
            { text: 'R1 (Ohm.cm2)', x: 2035.7, y: 432, w: 184, size: 30, bold: true, rot: true }],
    legend: { line: [2866.5, 2900], tx: 2907, ys: [229.5, 265, 300], size: 26, bold: true, sp: 0, ms: 14 } },
  { kind: 'trend', panel: [3084, 117, 1010, 655], area: [3241, 200, 4063, 680],
    series: trend([c1_znp, c1_zapp, c1_zcpp], ['diamond', 'diamond', 'down'], '#2e5f98'), ms: 13,
    y: { type: 'logarithmic', ticks: C_TICKS, fmt: v => sci(v, 2) },
    tick: { x: [23, 3.5, 7.2], y: [23, -1.4, 0] },
    texts: [{ text: 'C1: Capacidad de la pintura - Efecto barrera', x: 3612, y: 163, w: 567, size: 27, bold: true },
            { text: 'Tiempo (días)', x: 3608.5, y: 748, w: 182.5, size: 30, bold: true },
            { text: 'C1 (F/cm2)', x: 3110, y: 447.6, w: 140, size: 30, bold: true, rot: true }],
    legend: { line: [3915, 3947.5], tx: 3957, ys: [247, 287.7, 328.5], size: 26, bold: true, sp: 0, ms: 14 } },
  { kind: 'trend', panel: [2009, 827, 1041, 650], area: [2180, 895, 3003, 1400],
    series: trend([r2_znp, r2_zapp, r2_zcpp], ['square', 'diamond', 'down'], '#004586'), ms: 13,
    y: { type: 'logarithmic', ticks: R2_TICKS, fmt: v => sci(v, 2) },
    tick: { x: [23, 0.8, 3.2], y: [20, -0.9, 0] },
    texts: [{ text: 'R2: Resistencia a la transferencia de carga - Efecto anticorrosivo', x: 2585.7, y: 867.3, w: 844, size: 27, bold: true },
            { text: 'Tiempo (días)', x: 2552, y: 1451.6, w: 178, size: 30, bold: true },
            { text: 'R2 (Ohm.cm2)', x: 2037.6, y: 1152.7, w: 186, size: 30, bold: true, rot: true }],
    legend: { line: [2835, 2870], tx: 2876.6, ys: [1202.4, 1238, 1273.2], size: 26, bold: true, sp: 0, ms: 14 } },
  { kind: 'trend', panel: [3082, 836, 1012, 660], area: [3239, 921, 4067, 1403],
    series: trend([c2_znp, c2_zapp, c2_zcpp], ['diamond', 'diamond', 'down'], '#1b63ad'), ms: 13,
    y: { type: 'logarithmic', ticks: C_TICKS, fmt: v => sci(v, 2) },
    tick: { x: [23, 1.6, 7.2], y: [21, 0, 0] },
    texts: [{ text: 'C2- Capacidad de la doble capa electroquimica', x: 3612, y: 882.2, w: 625.5, size: 27, bold: true },
            { text: 'Tiempo (días)', x: 3618.4, y: 1467.4, w: 182.5, size: 30, bold: true },
            { text: 'C2 (F/cm2)', x: 3110, y: 1168.6, w: 141.6, size: 30, bold: true, rot: true }],
    legend: { line: [3872.5, 3908.4], tx: 3915, ys: [973, 1007, 1040], size: 26, bold: true, sp: 0, ms: 14 } },
];

/* ---------- construcción ---------- */
function fix(size, key) {
  return s => { s[key] = size; s.paddingLeft = s.paddingRight = s.paddingTop = s.paddingBottom = 0; };
}

function decoPlugin(cfg) {
  const [ox, oy] = cfg.panel;
  return {
    id: 'deco',
    beforeDraw(chart) {
      // espaciado de letras propio para las etiquetas de cada eje
      for (const id of ['x', 'y']) {
        const sc = chart.scales[id];
        if (!sc || sc._spaced) continue;
        const sp = cfg.tick[id][1], orig = sc.drawLabels;
        sc.drawLabels = function (area) {
          const c = this.ctx; c.save(); c.letterSpacing = sp + 'px'; orig.call(this, area); c.restore();
        };
        sc._spaced = true;
      }
    },
    beforeDatasetsDraw(chart) {
      const a = chart.chartArea, c = chart.ctx;
      c.save(); c.strokeStyle = GREY; c.lineWidth = 1;
      c.strokeRect(Math.round(a.left) + 0.5, Math.round(a.top) + 0.5, Math.round(a.right - a.left), Math.round(a.bottom - a.top));
      c.restore();
    },
    afterDraw(chart) {
      const c = chart.ctx, L = cfg.legend;
      cfg.texts.forEach(t => fitText(c, t, ox, oy));
      cfg.series.forEach((s, i) => {
        const y = L.ys[i] - oy;
        let mx = L.mx;
        if (L.line) {
          mx = (L.line[0] + L.line[1]) / 2;
          c.save(); c.strokeStyle = s.color; c.lineWidth = 4.5;
          c.beginPath(); c.moveTo(L.line[0] - ox, y); c.lineTo(L.line[1] - ox, y); c.stroke(); c.restore();
        }
        const mk = marker(s.shape, s.color, L.ms);
        c.drawImage(mk, mx - ox - mk.width / 2, y - mk.height / 2);
        fitText(c, { text: s.label, x: L.tx, y: L.ys[i], size: L.size, bold: L.bold, sp: L.sp, align: 'left' }, ox, oy);
      });
    }
  };
}

function build(cfg) {
  const [px, py, pw, ph] = cfg.panel, [l, t, r, b] = cfg.area;
  const box = document.createElement('div');
  box.className = 'panel';
  Object.assign(box.style, { left: px + 'px', top: py + 'px', width: pw + 'px', height: ph + 'px' });
  if (cfg.shadow) box.style.boxShadow = cfg.shadow;
  document.body.appendChild(box);

  const cv = document.createElement('canvas');
  cv.width = pw; cv.height = ph;
  Object.assign(cv.style, { left: px + 'px', top: py + 'px', width: pw + 'px', height: ph + 'px' });
  document.body.appendChild(cv);

  const isBode = cfg.kind === 'bode';
  const xs = isBode ? FREQ : DAYS;
  const datasets = cfg.series.map(s => ({
    label: s.label,
    data: xs.map((x, i) => ({ x, y: s.values[i] })).filter(p => p.y !== null),
    pointStyle: marker(s.shape, s.color, cfg.ms),
    pointRadius: cfg.ms / 2,
    showLine: !isBode,
    borderColor: s.color,
    borderWidth: 3.5,
    tension: 0,
    clip: false
  }));

  const grid = { drawOnChartArea: false, color: GREY, tickLength: 5 };
  const xScale = isBode ? {
    type: 'logarithmic', min: 0.01, max: 100000,
    afterBuildTicks: s => { s.ticks = FREQ_TICKS.map(v => ({ value: v })); },
    ticks: { callback: v => v < 1 ? String(v).replace('.', ',') : String(v) }
  } : {
    type: 'linear', min: 0, max: 40,
    afterBuildTicks: s => { s.ticks = DAY_TICKS.map(v => ({ value: v })); },
    ticks: { callback: v => String(v) }
  };
  Object.assign(xScale, { position: 'bottom', bounds: 'data', grid, border: { color: GREY }, afterFit: fix(py + ph - b, 'height') });
  Object.assign(xScale.ticks, { autoSkip: false, maxRotation: 0, minRotation: 0, padding: cfg.tick.x[2], color: '#000',
                                font: { family: FAM, size: cfg.tick.x[0] } });

  const yt = cfg.y.ticks;
  const yScale = {
    type: cfg.y.type || 'linear', position: 'left', bounds: 'data',
    min: yt[0], max: yt[yt.length - 1],
    afterBuildTicks: s => { s.ticks = yt.map(v => ({ value: v })); },
    ticks: { callback: cfg.y.fmt, padding: cfg.tick.y[2], color: '#000', font: { family: FAM, size: cfg.tick.y[0] } },
    grid, border: { color: GREY },
    afterFit: fix(l - px, 'width')
  };

  new Chart(cv, {
    type: 'scatter',
    data: { datasets },
    options: {
      responsive: false, animation: false, devicePixelRatio: 1, events: [],
      layout: { autoPadding: false, padding: { left: 0, top: t - py, right: px + pw - r, bottom: 0 } },
      plugins: { legend: { display: false }, title: { display: false }, tooltip: { enabled: false } },
      scales: { x: xScale, y: yScale }
    },
    plugins: [decoPlugin(cfg)]
  });
}

CHARTS.forEach(build);
</script>
</body>
</html>
